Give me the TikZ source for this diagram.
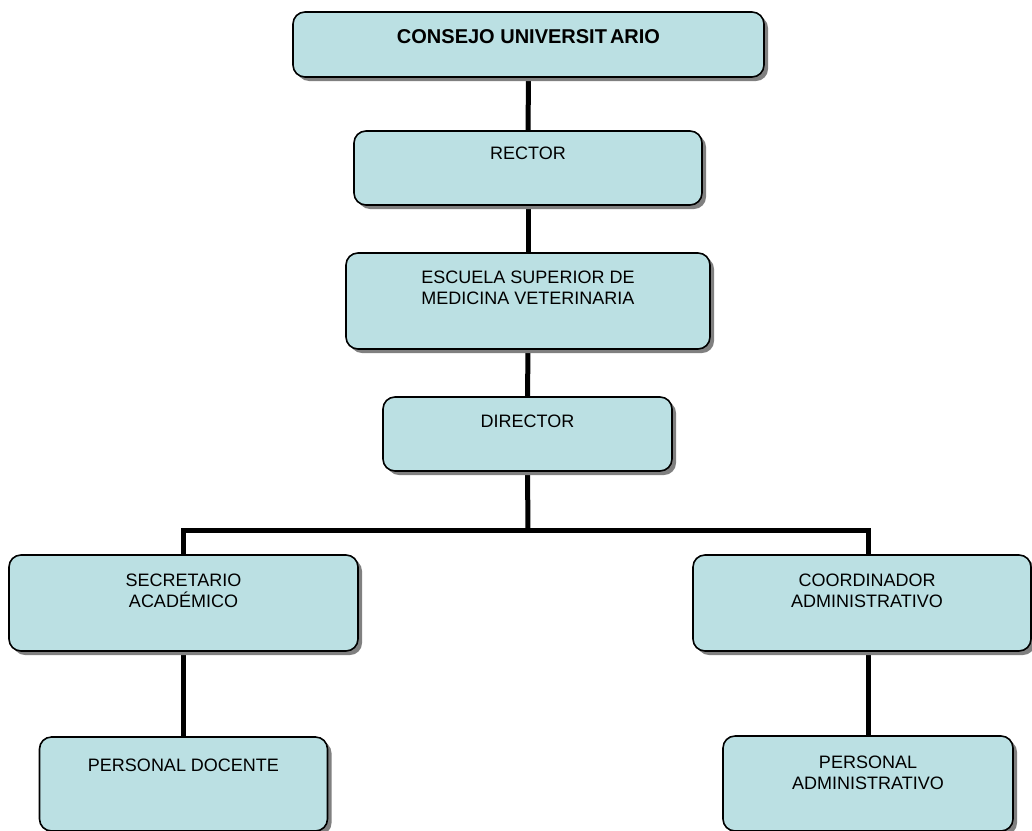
\documentclass[tikz,border=0pt]{standalone}
\usepackage{fontspec}
\setmainfont{Liberation Sans}
\usetikzlibrary{shadows,backgrounds,calc}
\definecolor{boxfill}{RGB}{187,224,227}
\definecolor{shadowgray}{RGB}{128,128,128}
\begin{document}
\begin{tikzpicture}[x=1pt,y=-1pt,
  orgbox/.style={rectangle, rounded corners=12pt, draw=black, line width=1.6pt,
    fill=boxfill, inner sep=0pt,
    drop shadow={shadow xshift=4pt, shadow yshift=-4pt, fill=shadowgray, opacity=1}},
  lbl/.style={anchor=north, inner sep=0pt, align=center,
    font=\fontsize{18}{21}\selectfont},
  link/.style={line width=5pt, draw=black}]
\clip (0,0) rectangle (1032,830);
\useasboundingbox (0,0) rectangle (1032,830);

\node[orgbox, minimum width=471pt, minimum height=65pt] (consejo) at (528.5,44.5) {};
\node[orgbox, minimum width=348pt, minimum height=74pt] (rector) at (528,168) {};
\node[orgbox, minimum width=364pt, minimum height=96pt] (escuela) at (528,301) {};
\node[orgbox, minimum width=289pt, minimum height=74pt] (director) at (527.5,434) {};
\node[orgbox, minimum width=349pt, minimum height=96pt] (secretario) at (183.5,603) {};
\node[orgbox, minimum width=288pt, minimum height=94pt] (docente) at (183.5,784) {};
\node[orgbox, minimum width=338pt, minimum height=96pt] (coordinador) at (862,603) {};
\node[orgbox, minimum width=290pt, minimum height=95pt] (admin) at (868,783.5) {};

\coordinate (bar) at (528,530);

\begin{scope}[on background layer]
\fill[white] (0,0) rectangle (1032,830);
\draw[link] (consejo.south) -- (rector.north);
\draw[link] (rector.south) -- (escuela.north);
\draw[link] (escuela.south) -- (director.north);
\draw[link] (director.south) -- (bar);
\draw[link] (secretario.north) |- (bar) -| (admin.north |- coordinador.north);
\draw[link] (secretario.south) -- (docente.north);
\draw[link] (admin.north |- coordinador.south) -- (admin.north);
\end{scope}

\node[lbl, font=\fontsize{20}{23}\selectfont\bfseries] (consejo-t) at ($(consejo.north)+(0,18)$) {CONSEJO UNIVERSIT\kern3pt ARIO};
\node[lbl] (rector-t) at ($(rector.north)+(0,17)$) {RECTOR};
\node[lbl] (escuela-t) at ($(escuela.north)+(0,19)$) {ESCUELA SUPERIOR DE\\MEDICINA VETERINARIA};
\node[lbl] (director-t) at ($(director.north)+(0,19)$) {DIRECTOR};
\node[lbl] (secretario-t) at ($(secretario.north)+(0,20)$) {SECRETARIO\\ACADÉMICO};
\node[lbl] (docente-t) at ($(docente.north)+(0,23)$) {PERSONAL DOCENTE};
\node[lbl] (coordinador-t) at ($(coordinador.north)+(5,20)$) {COORDINADOR\\ADMINISTRATIVO};
\node[lbl] (admin-t) at ($(admin.north)+(0,21)$) {PERSONAL\\ADMINISTRATIVO};
\end{tikzpicture}
\end{document}
